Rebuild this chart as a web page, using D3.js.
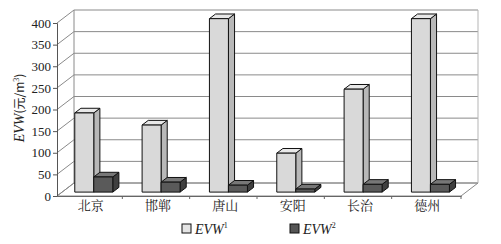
<!DOCTYPE html>
<html>
<head>
<meta charset="utf-8">
<script src="https://cdn.jsdelivr.net/npm/d3@7"></script>
<style>
  body { margin: 0; background: #fff; }
  text { fill: #222; }
</style>
</head>
<body>
<div id="chart"></div>
<script>
// data
var cities = ["北京", "邯郸", "唐山", "安阳", "长治", "德州"];
var evw1 = [183, 155, 401, 90, 238, 401];
var evw2 = [35, 23, 16, 7, 18, 18];
var yTicks = [0, 50, 100, 150, 200, 250, 300, 350, 400];

var W = 501, H = 244;
var svg = d3.select("#chart").append("svg")
    .attr("width", W).attr("height", H);

// front plane of the box, and depth offset of the back wall
var pLeft = 57, pRight = 461, pBottom = 196, pTop = 23;
var depth = {dx: 17, dy: -13};

var x = d3.scaleBand().domain(cities).range([pLeft, pRight]);
var y = d3.scaleLinear().domain([0, 400]).range([pBottom, pTop]);

function proj(px, py, z) {
  return [px + z * depth.dx, py + z * depth.dy];
}
function poly(pts) {
  return pts.map(p => p.join(",")).join(" ");
}

var grid = "#8a8a8a";

// floor
svg.append("polygon")
    .attr("points", poly([proj(pLeft, pBottom, 0), proj(pRight, pBottom, 0), proj(pRight, pBottom, 1), proj(pLeft, pBottom, 1)]))
    .attr("fill", "#fff").attr("stroke", grid).attr("stroke-width", 1);

// back wall gridlines + side wall diagonals
yTicks.forEach(function(t) {
  var a = proj(pLeft, y(t), 1), b = proj(pRight, y(t), 1);
  svg.append("line").attr("x1", a[0]).attr("y1", a[1]).attr("x2", b[0]).attr("y2", b[1])
      .attr("stroke", grid).attr("stroke-width", 1);
  var c = proj(pLeft, y(t), 0);
  svg.append("line").attr("x1", c[0]).attr("y1", c[1]).attr("x2", a[0]).attr("y2", a[1])
      .attr("stroke", grid).attr("stroke-width", 1);
});
var bl = proj(pLeft, y(0), 1), tl = proj(pLeft, y(400), 1);
var br = proj(pRight, y(0), 1), tr = proj(pRight, y(400), 1);
svg.append("line").attr("x1", bl[0]).attr("y1", bl[1]).attr("x2", tl[0]).attr("y2", tl[1]).attr("stroke", grid);
svg.append("line").attr("x1", br[0]).attr("y1", br[1]).attr("x2", tr[0]).attr("y2", tr[1]).attr("stroke", "#b5b5b5");

// front value axis
var yAxis = d3.axisLeft(y).tickValues(yTicks).tickSize(4).tickPadding(2);
var ya = svg.append("g").attr("transform", "translate(" + pLeft + ",0)").call(yAxis);
ya.select(".domain").attr("stroke", "#555");
ya.selectAll(".tick line").attr("stroke", "#555");
ya.selectAll("text").attr("font-family", "Liberation Serif, serif").attr("font-size", 13).attr("fill", "#333");

// category axis along the front floor edge
var xAxis = d3.axisBottom(x).tickSize(0).tickPadding(5);
var xa = svg.append("g").attr("transform", "translate(0," + pBottom + ")").call(xAxis);
xa.select(".domain").attr("stroke", "#666");
xa.selectAll("text").attr("font-family", "Noto Serif CJK SC, Noto Sans CJK SC, serif").attr("font-size", 13).attr("fill", "#222");
svg.append("g").selectAll("line")
    .data(cities.slice(1).concat(["_end"]))
    .join("line")
    .attr("x1", d => d === "_end" ? pRight : x(d) - 2)
    .attr("x2", d => d === "_end" ? pRight : x(d) - 2)
    .attr("y1", pBottom).attr("y2", pBottom + 3)
    .attr("stroke", "#666");

// bars
var barW = 19, z0 = 0.3, z1 = 0.66;
var series = [
  {name: "EVW1", values: evw1, front: "#d9d9d9", topc: "#e8e8e8", side: "#b8b8b8", legend: "#e4e4e4"},
  {name: "EVW2", values: evw2, front: "#5a5a5a", topc: "#777", side: "#3f3f3f", legend: "#555"}
];

cities.forEach(function(c, i) {
  var cx = x(c) + x.bandwidth() / 2 - 2;
  series.forEach(function(s, k) {
    var x0 = cx - barW + k * barW, x1 = x0 + barW;
    var v = s.values[i];
    var g = svg.append("g").attr("class", "bar");
    g.append("polygon")
        .attr("points", poly([proj(x1, y(v), z0), proj(x1, y(v), z1), proj(x1, y(0), z1), proj(x1, y(0), z0)]))
        .attr("fill", s.side).attr("stroke", "#111").attr("stroke-width", 1).attr("stroke-linejoin", "round");
    g.append("polygon")
        .attr("points", poly([proj(x0, y(v), z0), proj(x1, y(v), z0), proj(x1, y(v), z1), proj(x0, y(v), z1)]))
        .attr("fill", s.topc).attr("stroke", "#111").attr("stroke-width", 1).attr("stroke-linejoin", "round");
    g.append("polygon")
        .attr("points", poly([proj(x0, y(v), z0), proj(x1, y(v), z0), proj(x1, y(0), z0), proj(x0, y(0), z0)]))
        .attr("fill", s.front).attr("stroke", "#111").attr("stroke-width", 1).attr("stroke-linejoin", "round");
  });
});

// y title
var yt = svg.append("text")
    .attr("transform", "translate(24,108) rotate(-90)")
    .attr("text-anchor", "middle")
    .attr("font-family", "Liberation Serif, serif")
    .attr("font-size", 14);
yt.append("tspan").attr("font-style", "italic").text("EVW");
yt.append("tspan").attr("font-family", "Noto Sans CJK SC, sans-serif").attr("font-size", 12).text("(元/m");
yt.append("tspan").attr("font-size", 8).attr("dy", -5).text("3");
yt.append("tspan").attr("font-family", "Noto Sans CJK SC, sans-serif").attr("font-size", 12).attr("dy", 5).text(")");

// legend
var legendX = [182, 290];
series.forEach(function(s, k) {
  var lg = svg.append("g").attr("transform", "translate(" + legendX[k] + ",224)");
  lg.append("rect").attr("width", 9).attr("height", 9)
      .attr("fill", s.legend).attr("stroke", "#111");
  var t = lg.append("text").attr("x", 13).attr("y", 10)
      .attr("font-family", "Liberation Serif, serif").attr("font-size", 14);
  t.append("tspan").attr("font-style", "italic").text("EVW");
  t.append("tspan").attr("font-size", 8).attr("dy", -6).text(String(k + 1));
});
</script>
</body>
</html>
